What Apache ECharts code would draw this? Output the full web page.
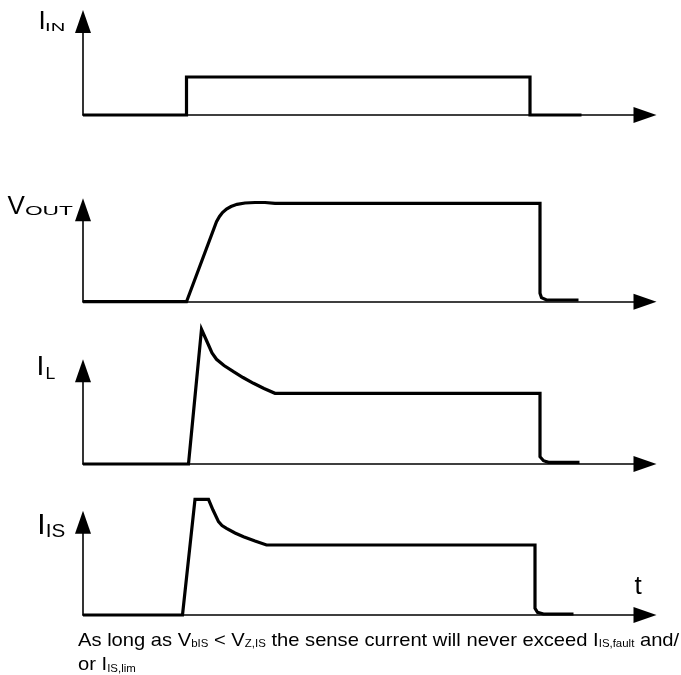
<!DOCTYPE html>
<html>
<head>
<meta charset="utf-8">
<script src="https://cdn.jsdelivr.net/npm/echarts@6/dist/echarts.min.js"></script>
<style>
  html, body { margin: 0; padding: 0; background: #fff; }
  #chart { width: 681px; height: 675px; }
</style>
</head>
<body>
<div id="chart"></div>
<script>
// Time axis (common to all four traces) and signal samples (height above the trace baseline)
const timeMax = 112.4;

const inT = [0, 20.7, 20.7, 89.4, 89.4, 99.7];
const inV = [0, 0, 38, 38, 0, 0];

const outT = [0, 20.7, 26.7, 27.3, 27.9, 28.7, 29.6, 30.8, 32.4, 34.4, 36.4, 38.4, 91.4, 91.4, 91.7, 92.7, 99.1];
const outV = [0, 0, 80, 85.2, 89.2, 92.7, 95.2, 97.4, 98.7, 99.2, 99.2, 98.4, 98.4, 8.4, 4, 1.7, 1.7];

const loadT = [0, 21.1, 23.7, 25.1, 25.8, 26.7, 28.2, 30.1, 32, 34.1, 36.2, 38.4, 91.4, 91.4, 92.1, 93.1, 99.3];
const loadV = [0, 0, 134.7, 119, 111, 104.7, 98.5, 92.3, 86.5, 80.7, 75.5, 70.7, 70.7, 7.3, 3.3, 1.7, 1.7];

const senseT = [0, 19.9, 22.4, 25.1, 26, 27.1, 27.8, 28.7, 30.4, 32.1, 34.4, 36.7, 90.4, 90.4, 90.9, 92.1, 98.1];
const senseV = [0, 0, 115.7, 115.7, 105, 93.3, 89.5, 86.7, 82, 78.3, 74, 70, 70, 6.7, 2.7, 1, 1];

const traces = [
  { t: inT, v: inV },
  { t: outT, v: outV },
  { t: loadT, v: loadV },
  { t: senseT, v: senseV }
];

// Panel placement: top of each plotting area and its height (baseline = top + height)
const panels = [
  { top: 21.5, height: 93.5 },
  { top: 209.8, height: 91.9 },
  { top: 370.8, height: 93.2 },
  { top: 522.2, height: 92.8 }
];

const FONT = '"Liberation Sans", Arial, sans-serif';
const axisLine = () => ({
  show: true,
  onZero: true,
  symbol: ['none', 'triangle'],
  symbolSize: [16, 23],
  lineStyle: { color: '#000', width: 1.6 }
});

const grids = panels.map(p => ({ left: 83, width: 562, top: p.top, height: p.height }));
const xAxes = panels.map((p, i) => ({
  type: 'value', gridIndex: i, min: 0, max: timeMax,
  axisLine: axisLine(), axisTick: { show: false }, axisLabel: { show: false }, splitLine: { show: false }
}));
const yAxes = panels.map((p, i) => ({
  type: 'value', gridIndex: i, min: 0, max: p.height,
  axisLine: axisLine(), axisTick: { show: false }, axisLabel: { show: false }, splitLine: { show: false }
}));
const series = traces.map((tr, i) => ({
  type: 'line',
  xAxisIndex: i, yAxisIndex: i,
  data: tr.t.map((t, k) => [t, tr.v[k]]),
  showSymbol: false,
  clip: false,
  silent: true,
  lineStyle: { color: '#000', width: 3.2, join: 'miter', cap: 'butt' }
}));

// Signal names with subscripts
function label(x, y, text, size, sx) {
  return {
    type: 'text', x: x, y: y, scaleX: sx || 1, silent: true,
    style: { text: text, font: size + 'px ' + FONT, fill: '#000', align: 'left', verticalAlign: 'middle' }
  };
}

const noteRich = {
  n: { fontSize: 18.5, fontFamily: FONT, lineHeight: 18.5, verticalAlign: 'bottom', fill: '#000' },
  s: { fontSize: 10.5, fontFamily: FONT, lineHeight: 10.5, verticalAlign: 'bottom', fill: '#000' }
};

const graphics = [
  label(38.6, 22, 'I', 26),
  label(45.1, 28.3, 'IN', 11.5, 1.75),
  label(7.5, 206.7, 'V', 26),
  label(24.9, 211.3, 'OUT', 13, 1.75),
  label(36.4, 367, 'I', 28),
  label(45.4, 375, 'L', 16, 1.1),
  label(37.2, 525.8, 'I', 30),
  label(45.8, 532, 'IS', 17.5, 1.18),
  label(634.6, 587.2, 't', 26),
  {
    type: 'text', x: 78, y: 631.5, scaleX: 1.09, silent: true,
    style: {
      text: '{n|As long as V}{s|bIS}{n| < V}{s|Z,IS}{n| the sense current will never exceed I}{s|IS,fault}{n| and/}',
      fill: '#000', align: 'left', verticalAlign: 'top', rich: noteRich
    }
  },
  {
    type: 'text', x: 78, y: 656, scaleX: 1.09, silent: true,
    style: {
      text: '{n|or I}{s|IS,lim}',
      fill: '#000', align: 'left', verticalAlign: 'top', rich: noteRich
    }
  }
];

const chart = echarts.init(document.getElementById('chart'));
chart.setOption({
  animation: false,
  backgroundColor: '#fff',
  grid: grids,
  xAxis: xAxes,
  yAxis: yAxes,
  series: series,
  graphic: graphics
});
</script>
</body>
</html>
